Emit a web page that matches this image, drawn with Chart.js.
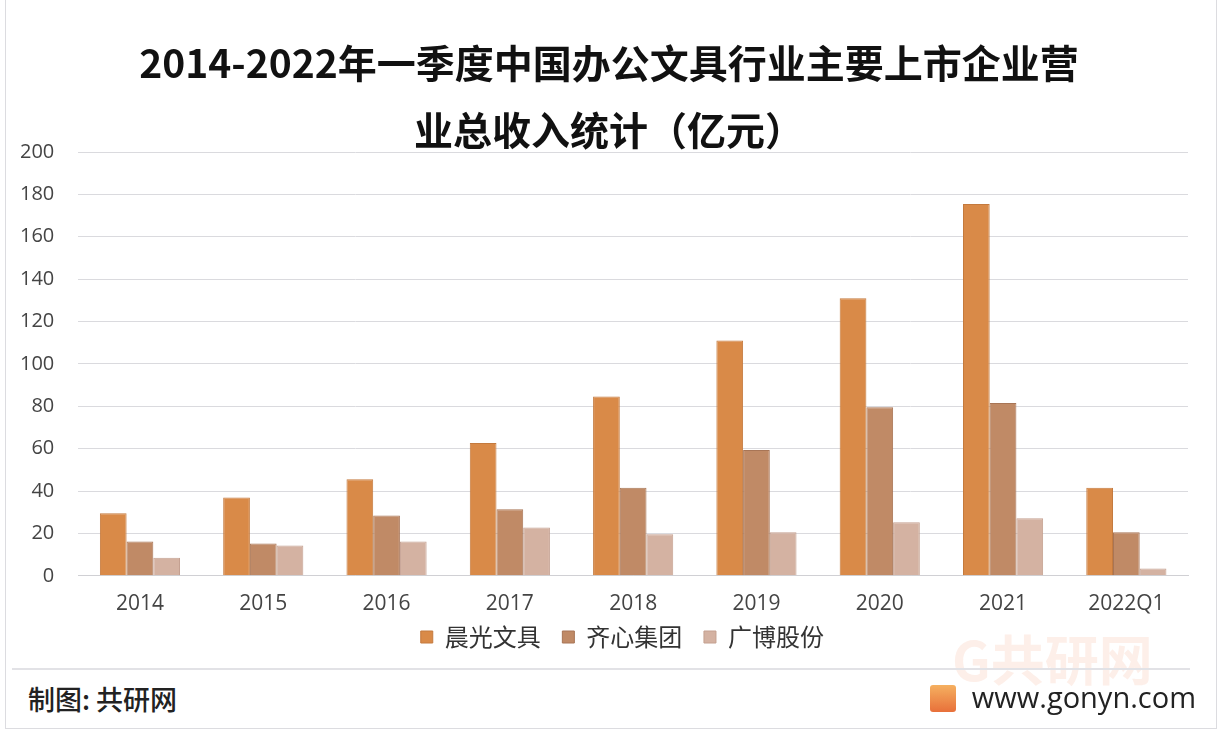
<!DOCTYPE html>
<html>
<head>
<meta charset="utf-8">
<script src="https://cdn.jsdelivr.net/npm/chart.js@4/dist/chart.umd.min.js"></script>
<style>
  html, body { margin: 0; padding: 0; background: #fff; }
  body { width: 1224px; height: 738px; position: relative; overflow: hidden; font-family: "Noto Sans CJK SC", "Noto Sans", sans-serif; }
  #frame { position: absolute; left: 5px; top: -2px; width: 1212px; height: 731px; border: 1px solid #dcdce0; box-sizing: border-box; }
  #wrap { position: absolute; left: 0; top: 0; width: 1224px; height: 668px; }
  .title { position: absolute; left: 0; width: 1224px; padding-right: 6px; box-sizing: border-box; text-align: center; font-size: 39px; font-weight: 700; color: #111; line-height: 67px; white-space: nowrap; }
  #t1 { top: 28px; }
  #t2 { top: 95px; }
  #sep { position: absolute; left: 12px; top: 668px; width: 1178px; height: 0; border-top: 2px solid #e2e2e6; }
  #credit { position: absolute; left: 28px; top: 679px; font-size: 27px; color: #222; font-weight: 500; }
  #site { position: absolute; right: 28px; top: 677px; font-size: 29px; color: #222; font-family: "Open Sans", sans-serif; }
  #site span { display: inline-block; width: 26px; height: 27px; margin-right: 16px; vertical-align: -4px; background: linear-gradient(#f5b060, #e8703a); border-radius: 3px; }
  #mark { position: absolute; left: 952px; top: 618px; font-size: 54px; color: rgba(240,120,70,0.12); font-weight: 700; }
</style>
</head>
<body>
<div id="frame"></div>
<div id="wrap"><canvas id="chart"></canvas></div>
<div class="title" id="t1">2014-2022年一季度中国办公文具行业主要上市企业营</div>
<div class="title" id="t2">业总收入统计（亿元）</div>
<div id="mark">G共研网</div>
<div id="sep"></div>
<div id="credit">制图: 共研网</div>
<div id="site"><span></span>www.gonyn.com</div>
<script>
const categories = ['2014', '2015', '2016', '2017', '2018', '2019', '2020', '2021', '2022Q1'];
const chenguang = [29.5, 37.0, 45.6, 62.7, 84.6, 111.0, 131.0, 175.5, 41.5];
const qixin = [16.2, 15.2, 28.5, 31.4, 41.5, 59.4, 79.5, 81.6, 20.6];
const guangbo = [8.5, 14.3, 16.2, 22.8, 19.6, 20.6, 25.3, 27.2, 3.5];
const yTicks = [0, 20, 40, 60, 80, 100, 120, 140, 160, 180, 200];

const ctx = document.getElementById('chart').getContext('2d');

new Chart(ctx, {
  type: 'bar',
  data: {
    labels: categories,
    datasets: [
      { label: '晨光文具', data: chenguang, backgroundColor: '#d98a48', borderColor: '#c47a3e', borderWidth: 1 },
      { label: '齐心集团', data: qixin, backgroundColor: '#c08a66', borderColor: '#a87556', borderWidth: 1 },
      { label: '广博股份', data: guangbo, backgroundColor: '#d4b2a2', borderColor: '#c4a090', borderWidth: 1 }
    ]
  },
  options: {
    responsive: true,
    maintainAspectRatio: false,
    animation: false,
    layout: { padding: { left: -4, right: 36, top: 152, bottom: 9 } },
    datasets: { bar: { categoryPercentage: 0.65, barPercentage: 1.0 } },
    plugins: {
      legend: {
        position: 'bottom',
        fullSize: false,
        labels: {
          color: '#333',
          font: { size: 24, family: '"Noto Sans CJK SC", sans-serif' },
          boxWidth: 12,
          boxHeight: 12,
          padding: 0,
          // a little extra room after each name
          generateLabels: chart => Chart.defaults.plugins.legend.labels.generateLabels(chart)
            .map(item => Object.assign(item, { text: item.text + '\u2002\u2009\u2009' }))
        }
      },
      tooltip: { enabled: false }
    },
    scales: {
      x: {
        grid: { display: false },
        border: { color: '#d0d0d4' },
        ticks: { color: '#444', font: { size: 21, family: '"Open Sans", sans-serif' }, padding: 8 }
      },
      y: {
        min: 0,
        max: 200,
        afterBuildTicks: axis => { axis.ticks = yTicks.map(v => ({ value: v })); },
        grid: { color: '#dadade', drawTicks: false },
        border: { display: false },
        ticks: { color: '#444', font: { size: 20, family: '"Open Sans", sans-serif' }, padding: 24 }
      }
    }
  }
});
</script>
</body>
</html>
